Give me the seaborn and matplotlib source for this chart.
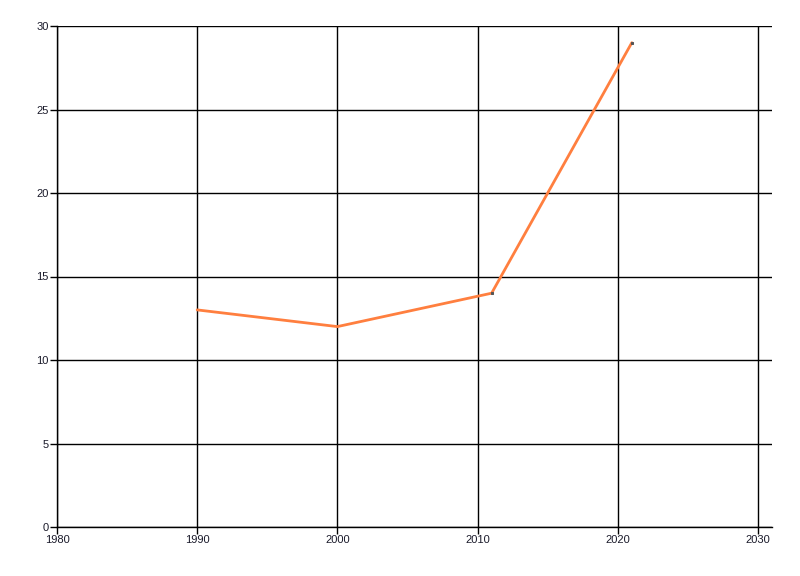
import matplotlib
matplotlib.use("Agg")
import matplotlib.pyplot as plt
import pandas as pd
import seaborn as sns

years = [1990, 2000, 2011, 2021]
values = [13, 12, 14, 29]
x_ticks = [1980, 1990, 2000, 2010, 2020, 2030]
y_ticks = [0, 5, 10, 15, 20, 25, 30]

df = pd.DataFrame({"year": years, "value": values})

sns.set_style("white")
plt.rcParams["font.family"] = ["Liberation Sans", "DejaVu Sans"]

fig = plt.figure(figsize=(8, 5.76), dpi=100)
ax = fig.add_axes([57 / 800, 49 / 576, 715 / 800, 501 / 576])

# small dark dots only show where the segments join on the right
sns.lineplot(data=df, x="year", y="value", ax=ax, color="#ff7f3f",
             linewidth=2, marker="s", markersize=2, markevery=[2, 3],
             markerfacecolor="#555555", markeredgecolor="#555555")

ax.set_xlim(1980, 2031)
ax.set_ylim(0, 30)
ax.set_xticks(x_ticks)
ax.set_yticks(y_ticks)
ax.grid(True, color="black", linewidth=1)
ax.set_axisbelow(True)
for side in ["top", "right"]:
    ax.spines[side].set_visible(False)
for side in ["left", "bottom"]:
    ax.spines[side].set_color("black")
    ax.spines[side].set_linewidth(1)
ax.tick_params(axis="both", direction="out", length=5, width=1,
               color="black", labelsize=8, labelcolor="#1a1a2a", pad=1,
               left=True, bottom=True)
ax.set_xlabel("")
ax.set_ylabel("")

fig.savefig("out.png", dpi=100)
